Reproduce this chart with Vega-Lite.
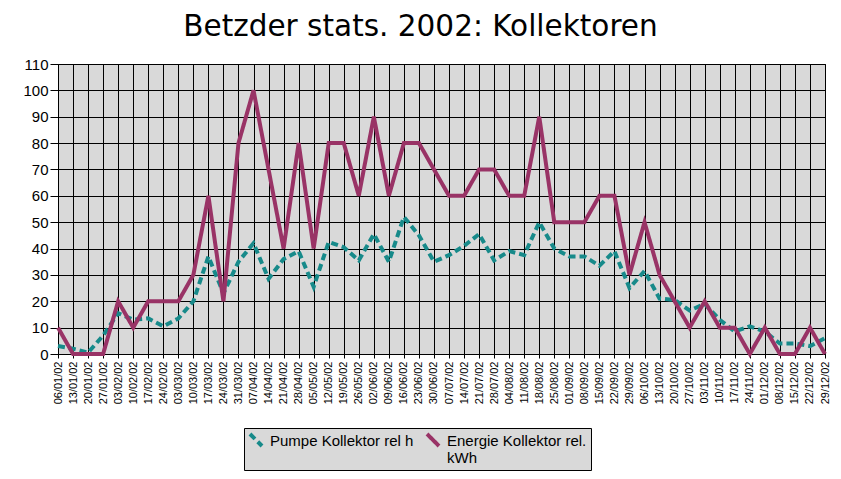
{
  "$schema": "https://vega.github.io/schema/vega-lite/v6.json",
  "width": 767,
  "height": 290,
  "autosize": {"type": "none"},
  "padding": {"left": 58, "top": 64, "right": 16, "bottom": 125},
  "background": "white",
  "title": {
    "text": "Betzder stats. 2002: Kollektoren",
    "font": "DejaVu Sans",
    "fontSize": 29.5,
    "fontWeight": "normal",
    "color": "black",
    "anchor": "middle",
    "dx": -21,
    "offset": 15
  },
  "config": {
    "view": {"fill": "#d9d9d9", "stroke": "black", "strokeWidth": 1},
    "font": "Liberation Sans"
  },
  "data": {
    "values": [
      {"d": "06/01/02", "p": 3, "e": 10},
      {"d": "13/01/02", "p": 2, "e": 0},
      {"d": "20/01/02", "p": 0.5, "e": 0},
      {"d": "27/01/02", "p": 7, "e": 0},
      {"d": "03/02/02", "p": 15.5, "e": 20},
      {"d": "10/02/02", "p": 13, "e": 10},
      {"d": "17/02/02", "p": 13.5, "e": 20},
      {"d": "24/02/02", "p": 10.5, "e": 20},
      {"d": "03/03/02", "p": 13.5, "e": 20},
      {"d": "10/03/02", "p": 20, "e": 30},
      {"d": "17/03/02", "p": 37, "e": 60},
      {"d": "24/03/02", "p": 23, "e": 20},
      {"d": "31/03/02", "p": 35, "e": 80},
      {"d": "07/04/02", "p": 42, "e": 100},
      {"d": "14/04/02", "p": 28.5, "e": 70},
      {"d": "21/04/02", "p": 36, "e": 40},
      {"d": "28/04/02", "p": 39, "e": 80},
      {"d": "05/05/02", "p": 25.5, "e": 40},
      {"d": "12/05/02", "p": 42.5, "e": 80},
      {"d": "19/05/02", "p": 40.5, "e": 80},
      {"d": "26/05/02", "p": 35.5, "e": 60},
      {"d": "02/06/02", "p": 45.5, "e": 90},
      {"d": "09/06/02", "p": 35, "e": 60},
      {"d": "16/06/02", "p": 52, "e": 80},
      {"d": "23/06/02", "p": 45, "e": 80},
      {"d": "30/06/02", "p": 35, "e": 70},
      {"d": "07/07/02", "p": 37.5, "e": 60},
      {"d": "14/07/02", "p": 41, "e": 60},
      {"d": "21/07/02", "p": 45.5, "e": 70},
      {"d": "28/07/02", "p": 35.5, "e": 70},
      {"d": "04/08/02", "p": 39, "e": 60},
      {"d": "11/08/02", "p": 37.5, "e": 60},
      {"d": "18/08/02", "p": 50, "e": 90},
      {"d": "25/08/02", "p": 40, "e": 50},
      {"d": "01/09/02", "p": 37, "e": 50},
      {"d": "08/09/02", "p": 37, "e": 50},
      {"d": "15/09/02", "p": 33.5, "e": 60},
      {"d": "22/09/02", "p": 39, "e": 60},
      {"d": "29/09/02", "p": 25, "e": 30},
      {"d": "06/10/02", "p": 31.5, "e": 50},
      {"d": "13/10/02", "p": 21, "e": 30},
      {"d": "20/10/02", "p": 20.5, "e": 20},
      {"d": "27/10/02", "p": 16.5, "e": 10},
      {"d": "03/11/02", "p": 19, "e": 20},
      {"d": "10/11/02", "p": 13, "e": 10},
      {"d": "17/11/02", "p": 8.5, "e": 10},
      {"d": "24/11/02", "p": 10.5, "e": 0},
      {"d": "01/12/02", "p": 8.5, "e": 10},
      {"d": "08/12/02", "p": 4, "e": 0},
      {"d": "15/12/02", "p": 4, "e": 0},
      {"d": "22/12/02", "p": 3, "e": 10},
      {"d": "29/12/02", "p": 6, "e": 0}
    ]
  },
  "transform": [
    {"fold": ["p", "e"], "as": ["series", "value"]}
  ],
  "mark": {"type": "line", "strokeWidth": 4, "strokeCap": "butt", "strokeJoin": "miter"},
  "encoding": {
    "x": {
      "field": "d",
      "type": "ordinal",
      "sort": null,
      "scale": {"type": "point", "padding": 0},
      "axis": {
        "title": null,
        "labelAngle": -90,
        "labelFontSize": 11,
        "labelColor": "black",
        "labelPadding": 3,
        "grid": true,
        "gridColor": "black",
        "gridWidth": 1,
        "gridOpacity": 1,
        "domain": false,
        "tickColor": "black",
        "tickSize": 4,
        "labelFont": "Liberation Sans"
      }
    },
    "y": {
      "field": "value",
      "type": "quantitative",
      "scale": {"domain": [0, 110], "nice": false},
      "axis": {
        "title": null,
        "values": [0, 10, 20, 30, 40, 50, 60, 70, 80, 90, 100, 110],
        "labelFontSize": 15,
        "labelColor": "black",
        "labelPadding": 2,
        "grid": true,
        "gridColor": "black",
        "gridWidth": 1,
        "gridOpacity": 1,
        "domain": false,
        "tickColor": "black",
        "tickSize": 8,
        "labelFont": "Liberation Sans"
      }
    },
    "color": {
      "field": "series",
      "type": "nominal",
      "scale": {
        "domain": ["p", "e"],
        "range": ["#178a8a", "#993366"]
      },
      "legend": {
        "title": null,
        "orient": "none",
        "legendX": 186,
        "legendY": 364,
        "direction": "horizontal",
        "columns": 2,
        "fillColor": "#d9d9d9",
        "strokeColor": "black",
        "padding": 4,
        "labelFontSize": 15,
        "labelFont": "Liberation Sans",
        "labelColor": "black",
        "labelLimit": 300,
        "labelBaseline": "top",
        "labelOffset": 6,
        "labelExpr": "datum.label == 'e' ? ['Energie Kollektor rel.', 'kWh'] : ['Pumpe Kollektor rel h', ' ']",
        "symbolType": "M-1,-1L1,1",
        "symbolSize": 144,
        "symbolStrokeWidth": 4,
        "columnPadding": 5,
        "symbolOffset": 0,
        "encode": {
          "labels": {"update": {"dy": {"value": -6}}}
        }
      }
    },
    "strokeDash": {
      "field": "series",
      "type": "nominal",
      "scale": {
        "domain": ["p", "e"],
        "range": [[7, 4], [1, 0]]
      },
      "legend": null
    }
  }
}
